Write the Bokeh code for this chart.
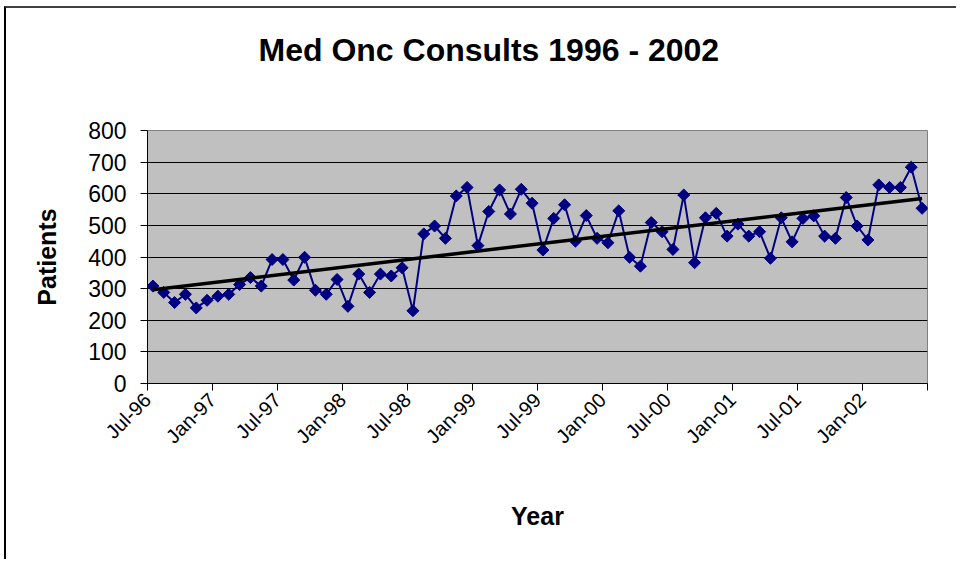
import numpy as np
from bokeh.plotting import figure
from bokeh.models import FixedTicker, Range1d, LinearAxis, Title
from bokeh.embed import file_html
from bokeh.resources import INLINE

# Monthly consults, Jul-96 .. Jun-02
patients = [308, 288, 256, 282, 239, 263, 276, 282, 313, 335, 308, 392,
            392, 327, 399, 295, 282, 329, 244, 346, 288, 346, 340, 366,
            230, 473, 498, 459, 593, 620, 436, 544, 612, 536, 614, 570,
            422, 522, 565, 450, 531, 459, 445, 546, 399, 371, 509, 480,
            424, 596, 382, 524, 538, 466, 504, 466, 480, 396, 524, 448,
            522, 530, 466, 459, 588, 498, 454, 628, 620, 620, 684, 554]

tick_labels = ["Jul-96", "Jan-97", "Jul-97", "Jan-98", "Jul-98", "Jan-99",
               "Jul-99", "Jan-00", "Jul-00", "Jan-01", "Jul-01", "Jan-02", ""]
y_ticks = [0, 100, 200, 300, 400, 500, 600, 700, 800]

title_text = "Med Onc Consults 1996 - 2002"
x_title = "Year"
y_title = "Patients"

FONT = "Liberation Sans"

n = len(patients)
x = np.arange(n) + 0.5
slope, intercept = np.polyfit(x, np.array(patients, dtype=float), 1)
xt = np.array([x[0], x[-1]])
yt = slope * xt + intercept

p = figure(width=952, height=553, output_backend="svg", toolbar_location=None,
           x_range=Range1d(0, n), y_range=Range1d(0, 800),
           min_border_left=141, min_border_right=31,
           min_border_top=122, min_border_bottom=178)

p.styles = {"margin-left": "4px", "margin-top": "6px",
            "border-top": "2px solid #404040", "border-left": "2px solid black"}

p.background_fill_color = "#C0C0C0"
p.border_fill_color = "white"
p.outline_line_color = "#808080"
p.outline_line_width = 1

# invisible spacer between the plot area and the title
spacer = LinearAxis(ticker=FixedTicker(ticks=[0]), axis_line_color=None,
                    major_tick_line_color=None, minor_tick_line_color=None,
                    major_tick_in=0, major_tick_out=63, minor_tick_out=0,
                    major_label_standoff=0, major_label_overrides={0: ""},
                    major_label_text_font_size="0px")
p.add_layout(spacer, "above")

title = Title(text=title_text, align="left", offset=111, standoff=0,
              text_font=FONT, text_font_style="bold", text_font_size="32px",
              text_color="black")
p.add_layout(title, "above")

p.xgrid.visible = False
p.ygrid.grid_line_color = "black"
p.ygrid.grid_line_width = 1

# y axis
p.yaxis.ticker = FixedTicker(ticks=y_ticks)
p.yaxis.minor_tick_line_color = None
p.yaxis.major_tick_in = 0
p.yaxis.major_tick_out = 7
p.yaxis.axis_line_color = "black"
p.yaxis.major_label_text_font = FONT
p.yaxis.major_label_text_font_size = "23px"
p.yaxis.major_label_text_color = "black"
p.yaxis.major_label_standoff = 14
p.yaxis.axis_label = y_title
p.yaxis.axis_label_text_font = FONT
p.yaxis.axis_label_text_font_style = "bold"
p.yaxis.axis_label_text_font_size = "25px"
p.yaxis.axis_label_text_color = "black"
p.yaxis.axis_label_standoff = 24

# x axis
xa = p.below[0]
xa.ticker = FixedTicker(ticks=list(range(0, n + 1, 6)))
xa.major_label_overrides = {i * 6: lab for i, lab in enumerate(tick_labels)}
xa.minor_tick_line_color = None
xa.major_tick_in = 0
xa.major_tick_out = 7
xa.axis_line_color = "black"
xa.major_label_orientation = np.pi / 4
xa.major_label_text_font = FONT
xa.major_label_text_font_size = "20px"
xa.major_label_text_color = "black"
xa.major_label_standoff = 6
xa.axis_label = x_title
xa.axis_label_text_font = FONT
xa.axis_label_text_font_style = "bold"
xa.axis_label_text_font_size = "25px"
xa.axis_label_text_color = "black"
xa.axis_label_standoff = 44

p.line(x, patients, line_color="#000080", line_width=2)
p.scatter(x, patients, marker="square", size=8.5, angle=np.pi / 4,
          fill_color="#000080", line_color="#000080")
p.line(xt, yt, line_color="black", line_width=3.5)

open("out.html", "w").write(file_html(p, INLINE))
